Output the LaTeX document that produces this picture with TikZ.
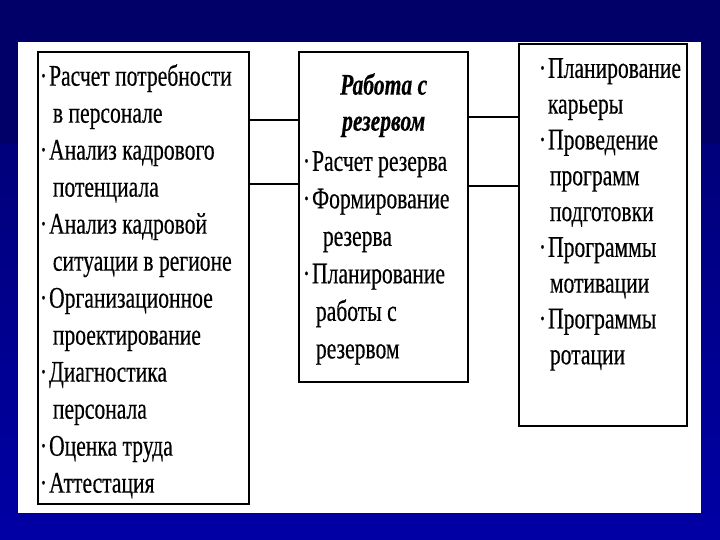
\documentclass[tikz,border=0pt]{standalone}
\usepackage{fontspec}
\setmainfont{Liberation Serif}[FakeStretch=0.72, FakeBold=0.4]
\usepackage{tikz}
\usetikzlibrary{positioning}

\definecolor{slidenavy}{RGB}{0,0,104}
\definecolor{slideblue}{RGB}{0,0,165}

\begin{document}
\begin{tikzpicture}[
            x=1pt, y=-1pt,
            frame/.style={rectangle, draw=black, line width=2.4pt, fill=white,
                          anchor=north west, inner sep=0pt},
            list/.style ={anchor=north west, align=left, inner sep=0pt,
                          font=\fontsize{30}{37}\selectfont},
            head/.style ={align=center, inner sep=0pt,
                          font=\fontsize{30}{36}\selectfont\bfseries\itshape},
            link/.style ={line width=2pt}
        ]
        \useasboundingbox (0,0) rectangle (720,540);
        \fill[slidenavy] (0,0) rectangle (720,540);
        \shade[top color=slidenavy!70!slideblue, bottom color=slideblue] (0,145) rectangle (720,540);
        \fill[white] (18,42) rectangle (701,513);

        \node[frame, minimum width=211pt, minimum height=452pt] (plan)    at (37,51)  {};
        \node[frame, minimum width=169pt, minimum height=330pt] (reserve) at (298,51) {};
        \node[frame, minimum width=168pt, minimum height=382pt] (career)  at (518,43) {};

        \node[list, below right=13pt and 2.7pt of plan.north west] (plantext)
            {·\kern2pt Расчет потребности\\
             \hspace*{13pt}в персонале\\
             ·\kern2pt Анализ кадрового\\
             \hspace*{13pt}потенциала\\
             ·\kern2pt Анализ кадровой\\
             \hspace*{13pt}ситуации в регионе\\
             ·\kern2pt Организационное\\
             \hspace*{13pt}проектирование\\
             ·\kern2pt Диагностика\\
             \hspace*{13pt}персонала\\
             ·\kern2pt Оценка труда\\
             ·\kern2pt Аттестация};
        \node[head, below=22pt of reserve.north] (reservehead) {Работа с\\резервом};
        \node[list, font=\fontsize{30}{37.5}\selectfont,
              below right=100pt and 4.7pt of reserve.north west] (reservetext)
            {·\kern2pt Расчет резерва\\
             ·\kern2pt Формирование\\
             \hspace*{20pt}резерва\\
             ·\kern2pt Планирование\\
             \hspace*{13pt}работы с\\
             \hspace*{13pt}резервом};
        \node[list, font=\fontsize{30}{35.8}\selectfont,
              below right=15pt and 20.7pt of career.north west] (careertext)
            {·\kern2pt Планирование\\
             \hspace*{9pt}карьеры\\
             ·\kern2pt Проведение\\
             \hspace*{11pt}программ\\
             \hspace*{11pt}подготовки\\
             ·\kern2pt Программы\\
             \hspace*{11pt}мотивации\\
             ·\kern2pt Программы\\
             \hspace*{11pt}ротации};

        \coordinate (lefttop) at (0,120);
        \coordinate (leftbot) at (0,184);
        \coordinate (righttop) at (0,117);
        \coordinate (rightbot) at (0,186);
        \draw[link] (plan.east |- lefttop) -- (reserve.west |- lefttop);
        \draw[link] (plan.east |- leftbot) -- (reserve.west |- leftbot);
        \draw[link] (reserve.east |- righttop) -- (career.west |- righttop);
        \draw[link] (reserve.east |- rightbot) -- (career.west |- rightbot);
\end{tikzpicture}
\end{document}
